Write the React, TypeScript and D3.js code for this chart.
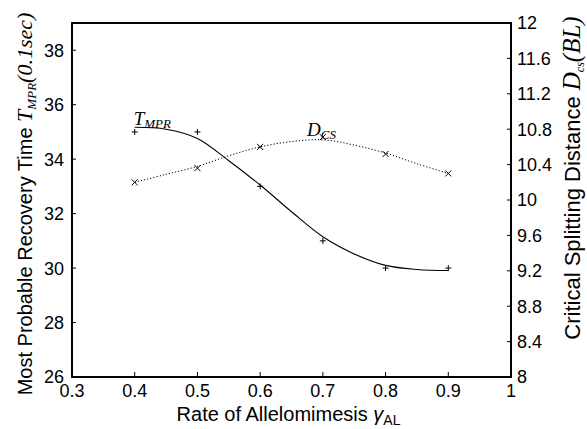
import React from 'react';
import * as d3 from 'd3';

// measured points
const gammaValues = [0.4, 0.5, 0.6, 0.7, 0.8, 0.9];
const tmprValues = [35, 35, 33, 31, 30, 30];
const dcsValues = [10.2, 10.36, 10.6, 10.71, 10.52, 10.3];

// fitted curves
const fitGamma = [0.4, 0.45, 0.5, 0.55, 0.6, 0.65, 0.7, 0.75, 0.8, 0.85, 0.9];
const tmprFit = [35.17, 35.1, 34.76, 33.94, 33.05, 32.07, 31.15, 30.52, 30.1, 29.95, 29.91];
const dcsFit = [10.2, 10.29, 10.38, 10.5, 10.6, 10.66, 10.68, 10.62, 10.53, 10.41, 10.3];

const xTicks = [0.3, 0.4, 0.5, 0.6, 0.7, 0.8, 0.9, 1];
const leftTicks = [26, 28, 30, 32, 34, 36, 38];
const rightTicks = [8, 8.4, 8.8, 9.2, 9.6, 10, 10.4, 10.8, 11.2, 11.6, 12];

const sans = '"Liberation Sans", Arial, sans-serif';
const serif = '"Liberation Serif", "Times New Roman", serif';

export default function App() {
  const width = 587, height = 429;
  const margin = { top: 23, right: 76, bottom: 52, left: 72 };
  const x = d3.scaleLinear().domain([0.3, 1]).range([margin.left, width - margin.right]);
  const yL = d3.scaleLinear().domain([26, 39]).range([height - margin.bottom, margin.top]);
  const yR = d3.scaleLinear().domain([8, 12]).range([height - margin.bottom, margin.top]);

  const x0 = margin.left, x1 = width - margin.right;
  const y0 = height - margin.bottom, y1 = margin.top;

  const tLine = d3.line<number>()
    .x((d, i) => x(fitGamma[i]))
    .y(d => yL(d))
    .curve(d3.curveCatmullRom);
  const dLine = d3.line<number>()
    .x((d, i) => x(fitGamma[i]))
    .y(d => yR(d))
    .curve(d3.curveCatmullRom);

  return (
    <div style={{ position: 'absolute', left: 0, top: 0 }}>
      <svg width={width} height={height} style={{ display: 'block', background: '#fff' }}>
        {/* ticks */}
        {leftTicks.map(t => (
          <g key={'l' + t}>
            <line x1={x0} x2={x0 + 4} y1={yL(t)} y2={yL(t)} stroke="#000" strokeWidth={1} />
            <text x={x0 - 8} y={yL(t)} dy="0.36em" textAnchor="end" fontFamily={sans} fontSize={18}>{t}</text>
          </g>
        ))}
        {rightTicks.map(t => (
          <g key={'r' + t}>
            <line x1={x1 - 4} x2={x1} y1={yR(t)} y2={yR(t)} stroke="#000" strokeWidth={1} />
            <text x={x1 + 6} y={yR(t)} dy="0.36em" textAnchor="start" fontFamily={sans} fontSize={18}>{t}</text>
          </g>
        ))}
        {xTicks.map(t => (
          <g key={'x' + t}>
            <line x1={x(t)} x2={x(t)} y1={y0} y2={y0 - 5} stroke="#000" strokeWidth={1} />
            <text x={x(t)} y={y0 + 20} textAnchor="middle" fontFamily={sans} fontSize={18}>{t}</text>
          </g>
        ))}

        {/* frame */}
        <rect x={x0} y={y1} width={x1 - x0} height={y0 - y1} fill="none" stroke="#000" strokeWidth={2} />

        {/* curves */}
        <path d={tLine(tmprFit) || ''} fill="none" stroke="#000" strokeWidth={1.1} />
        <path d={dLine(dcsFit) || ''} fill="none" stroke="#000" strokeWidth={1} strokeDasharray="1.2,2" />

        {/* markers */}
        {gammaValues.map((g, i) => (
          <path key={'p' + g} d={`M${x(g) - 3},${yL(tmprValues[i])}h6M${x(g)},${yL(tmprValues[i]) - 3}v6`} stroke="#000" strokeWidth={1} />
        ))}
        {gammaValues.map((g, i) => (
          <path key={'c' + g} d={`M${x(g) - 3},${yR(dcsValues[i]) - 3}l6,6M${x(g) - 3},${yR(dcsValues[i]) + 3}l6,-6`} stroke="#000" strokeWidth={1} />
        ))}

        {/* in-plot labels */}
        <text x={x(0.4) - 1} y={125} fontFamily={serif} fontStyle="italic" fontSize={19}>
          T<tspan fontSize={13} dy={3}>MPR</tspan>
        </text>
        <text x={307} y={136} fontFamily={serif} fontStyle="italic" fontSize={19}>
          D<tspan fontSize={13} dy={3}>CS</tspan>
        </text>

        {/* axis titles */}
        <text x={(x0 + x1) / 2 - 3} y={421} textAnchor="middle" fontFamily={sans} fontSize={20}>
          Rate of Allelomimesis <tspan fontStyle="italic">γ</tspan><tspan fontSize={14} dy={4}>AL</tspan>
        </text>
        <text transform="translate(32,204) rotate(-90)" textAnchor="middle" fontFamily={sans} fontSize={20}>
          Most Probable Recovery Time <tspan fontFamily={serif} fontStyle="italic" fontSize={22}>T</tspan>
          <tspan fontFamily={serif} fontStyle="italic" fontSize={13} dy={4}>MPR</tspan>
          <tspan fontFamily={serif} fontStyle="italic" fontSize={22} dy={-4}>(0.1sec)</tspan>
        </text>
        <text transform="translate(580,178) rotate(-90)" textAnchor="middle" fontFamily={sans} fontSize={22}>
          Critical Splitting Distance <tspan fontFamily={serif} fontStyle="italic" fontSize={25}>D</tspan>
          <tspan fontFamily={serif} fontStyle="italic" fontSize={12} dy={4}>cs</tspan>
          <tspan fontFamily={serif} fontStyle="italic" fontSize={25} dy={-4}>(BL)</tspan>
        </text>
      </svg>
    </div>
  );
}
